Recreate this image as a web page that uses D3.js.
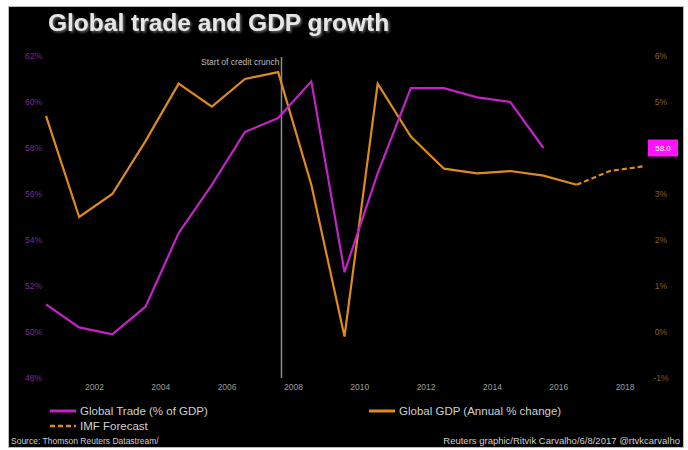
<!DOCTYPE html>
<html><head><meta charset="utf-8">
<script src="https://cdn.jsdelivr.net/npm/d3@7"></script>
<style>
html,body{margin:0;padding:0;background:#fff;}
svg{display:block;font-family:"Liberation Sans",Arial,sans-serif;}
</style></head>
<body>
<svg id="c" width="688" height="450"></svg>
<script>
const years = [2000,2001,2002,2003,2004,2005,2006,2007,2008,2009,2010,2011,2012,2013,2014,2015,2016,2017,2018];
const tradeYears = [2000,2001,2002,2003,2004,2005,2006,2007,2008,2009,2010,2011,2012,2013,2014,2015];
const tradeValues = [51.2,50.2,49.9,51.1,54.3,56.4,58.7,59.3,60.9,52.6,56.9,60.6,60.6,60.2,60.0,58.0];
const gdpYears = [2000,2001,2002,2003,2004,2005,2006,2007,2008,2009,2010,2011,2012,2013,2014,2015,2016];
const gdpValues = [4.7,2.5,3.0,4.15,5.4,4.9,5.5,5.65,3.2,-0.1,5.4,4.25,3.55,3.45,3.5,3.4,3.2];
const forecastYears = [2016,2017,2018];
const forecastValues = [3.2,3.5,3.6];
const xTickLabels = ["2002","2004","2006","2008","2010","2012","2014","2016","2018"];
const leftTicks = [48,50,52,54,56,58,60,62];
const rightTicks = [-1,0,1,2,3,4,5,6];
const creditCrunchYear = 2007.1;

const svg = d3.select("#c");

// frame
svg.append("rect").attr("x",8.5).attr("y",6.5).attr("width",675).attr("height",441)
  .attr("fill","#000").attr("stroke","#bbb").attr("stroke-width",1);

const x = d3.scaleLinear().domain([2000,2018]).range([46,643]);
const yL = d3.scaleLinear().domain([48,62]).range([378,56]);
const yR = d3.scaleLinear().domain([-1,6]).range([378,56]);

// title
const defs = svg.append("defs");
const f = defs.append("filter").attr("id","sh").attr("x","-10%").attr("y","-30%").attr("width","120%").attr("height","160%");
f.append("feDropShadow").attr("dx",1.5).attr("dy",1.5).attr("stdDeviation",1).attr("flood-color","#666");
svg.append("text").attr("x",48).attr("y",31).attr("fill","#e6e6e6")
  .attr("font-size",24.5).attr("font-weight","bold").attr("filter","url(#sh)")
  .text("Global trade and GDP growth");

// left axis labels
svg.append("g").selectAll("text").data(leftTicks).join("text")
  .attr("x",42).attr("y",d=>yL(d)).attr("dy","0.35em").attr("text-anchor","end")
  .attr("font-size",8.5).attr("fill","#7d2a8c").text(d=>d+"%");

// last value box position (covers one right-axis label, as in the reference)
const lastTrade = tradeValues[tradeValues.length-1];
const by = yL(lastTrade);

// right axis labels (the one under the value box is hidden)
svg.append("g").selectAll("text").data(rightTicks.filter(d=>Math.abs(yR(d)-by)>10)).join("text")
  .attr("x",661).attr("y",d=>yR(d)).attr("dy","0.35em").attr("text-anchor","middle")
  .attr("font-size",8.5).attr("fill","#86601c").text(d=>d+"%");

// x labels
svg.append("g").selectAll("text").data(xTickLabels).join("text")
  .attr("x",d=>x(+d-0.54)).attr("y",387).attr("dy","0.35em").attr("text-anchor","middle")
  .attr("font-size",8.5).attr("fill","#9a9a9a").text(d=>d);

// credit crunch line
svg.append("line").attr("x1",x(creditCrunchYear)).attr("x2",x(creditCrunchYear))
  .attr("y1",57).attr("y2",378).attr("stroke","#8a8a8a").attr("stroke-width",1.5);
svg.append("text").attr("x",x(creditCrunchYear)-2).attr("y",62).attr("dy","0.35em")
  .attr("text-anchor","end").attr("font-size",8.5).attr("fill","#bdbdbd").text("Start of credit crunch");

const orange = "#e08a1c", magenta = "#c322c9";

const lineL = d3.line().x(d=>x(d[0])).y(d=>yL(d[1]));
const lineR = d3.line().x(d=>x(d[0])).y(d=>yR(d[1]));

svg.append("path").datum(gdpYears.map((yv,i)=>[yv,gdpValues[i]]))
  .attr("d",lineR).attr("fill","none").attr("stroke",orange).attr("stroke-width",2.2).attr("stroke-linejoin","miter");
svg.append("path").datum(forecastYears.map((yv,i)=>[yv,forecastValues[i]]))
  .attr("d",lineR).attr("fill","none").attr("stroke",orange).attr("stroke-width",2.2).attr("stroke-dasharray","5,3");
svg.append("path").datum(tradeYears.map((yv,i)=>[yv,tradeValues[i]]))
  .attr("d",lineL).attr("fill","none").attr("stroke",magenta).attr("stroke-width",2.2).attr("stroke-linejoin","miter");

svg.append("rect").attr("x",648).attr("y",by-8.5).attr("width",30).attr("height",17).attr("fill","#ff12ff");
svg.append("text").attr("x",663).attr("y",by).attr("dy","0.35em").attr("text-anchor","middle")
  .attr("font-size",8).attr("fill","#fff").text(lastTrade.toFixed(1));

// legend
const lg = svg.append("g").attr("font-size",11.5).attr("fill","#d0d0d0");
lg.append("line").attr("x1",50).attr("x2",76).attr("y1",411).attr("y2",411).attr("stroke",magenta).attr("stroke-width",3);
lg.append("text").attr("x",80).attr("y",411).attr("dy","0.35em").text("Global Trade (% of GDP)");
lg.append("line").attr("x1",50).attr("x2",76).attr("y1",426).attr("y2",426).attr("stroke",orange).attr("stroke-width",2.5).attr("stroke-dasharray","5,3");
lg.append("text").attr("x",80).attr("y",426).attr("dy","0.35em").text("IMF Forecast");
lg.append("line").attr("x1",369).attr("x2",395).attr("y1",411).attr("y2",411).attr("stroke",orange).attr("stroke-width",3);
lg.append("text").attr("x",399).attr("y",411).attr("dy","0.35em").text("Global GDP (Annual % change)");

// source & credit
svg.append("text").attr("x",11).attr("y",441).attr("dy","0.35em").attr("font-size",8.5).attr("fill","#cfcfcf")
  .text("Source: Thomson Reuters Datastream/");
svg.append("text").attr("x",680).attr("y",441).attr("dy","0.35em").attr("text-anchor","end").attr("font-size",9.5).attr("fill","#cfcfcf")
  .text("Reuters graphic/Ritvik Carvalho/6/8/2017 @rtvkcarvalho");
</script>
</body></html>
